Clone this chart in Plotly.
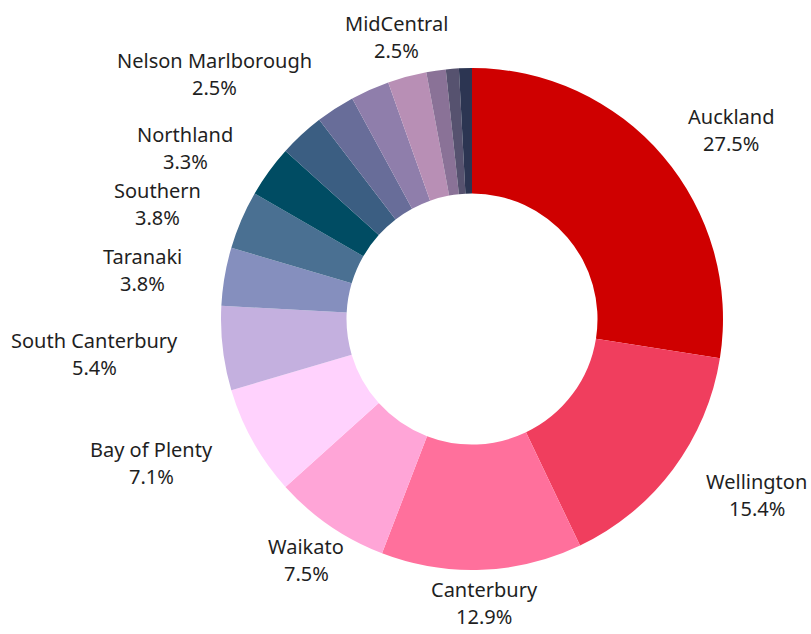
import math
import plotly.graph_objects as go

# ---- data ----
regions = ["Auckland", "Wellington", "Canterbury", "Waikato", "Bay of Plenty",
           "South Canterbury", "Taranaki", "Southern", "Northland", "Hawke's Bay",
           "Nelson Marlborough", "Lakes", "MidCentral", "Whanganui", "West Coast",
           "Tairāwhiti"]
counts = [66, 37, 31, 18, 17, 13, 9, 9, 8, 7, 6, 6, 6, 3, 2, 2]
labelled = ["Auckland", "Wellington", "Canterbury", "Waikato", "Bay of Plenty",
            "South Canterbury", "Taranaki", "Southern", "Northland",
            "Nelson Marlborough", "MidCentral"]

# ---- style ----
colors = ["#cf0000", "#f03e5e", "#ff709c", "#ffa5d7", "#ffd2fd", "#c4b0df",
          "#858fbe", "#4a7092", "#004c63", "#3b5e82", "#686d99", "#8f7eab",
          "#b88fb5", "#8a7297", "#56526f", "#2c3552"]
# label placement: (distance from centre in px, angular nudge in degrees)
label_place = {
    "Auckland": (321, 4.4), "Wellington": (335, -5.0), "Canterbury": (284, -0.2),
    "Waikato": (293, 0.0), "Bay of Plenty": (351, 5.1),
    "South Canterbury": (379, 1.5), "Taranaki": (333, -1.3),
    "Southern": (335, -3.1), "Northland": (334, -5.2),
    "Nelson Marlborough": (355, -13.4), "MidCentral": (292, 0.0),
}
W, H = 811, 634
ML, MR, MT, MB = 221, 88, 68, 64
PW, PH = W - ML - MR, H - MT - MB
CX, CY = ML + PW / 2, MT + PH / 2
FONT = "Noto Sans"
TXT = "#1f1f1f"

fig = go.Figure(go.Pie(
    labels=regions, values=counts, hole=0.5, sort=False,
    direction="clockwise", rotation=0,
    marker=dict(colors=colors, line=dict(width=0)),
    textinfo="none", showlegend=False,
    hovertemplate="%{label}<br>%{percent:.1%}<extra></extra>",
))

total = sum(counts)
cum = 0
annotations = []
for name, v in zip(regions, counts):
    mid = (cum + v / 2) / total * 360
    cum += v
    if name not in labelled:
        continue
    r, nudge = label_place[name]
    a = math.radians(mid + nudge)
    px = CX + r * math.sin(a)
    py = CY - r * math.cos(a)
    xp = (px - ML) / PW
    yp = (H - MB - py) / PH
    pct = f"{v / total * 100:.1f}%"
    for txt, shift in ((name, 13.5), (pct, -13.5)):
        annotations.append(dict(
            x=xp, y=yp, xref="paper", yref="paper", text=txt, showarrow=False,
            xanchor="center", yanchor="middle", yshift=shift,
            font=dict(family=FONT, size=20, color=TXT),
        ))

fig.update_layout(
    width=W, height=H,
    margin=dict(l=ML, r=MR, t=MT, b=MB),
    paper_bgcolor="white", plot_bgcolor="white",
    annotations=annotations,
    font=dict(family=FONT),
)

fig.write_html("out.html",
               config={"displayModeBar": False},
               post_script="document.body.style.margin='0px';"
                           "document.body.style.overflow='hidden';")
